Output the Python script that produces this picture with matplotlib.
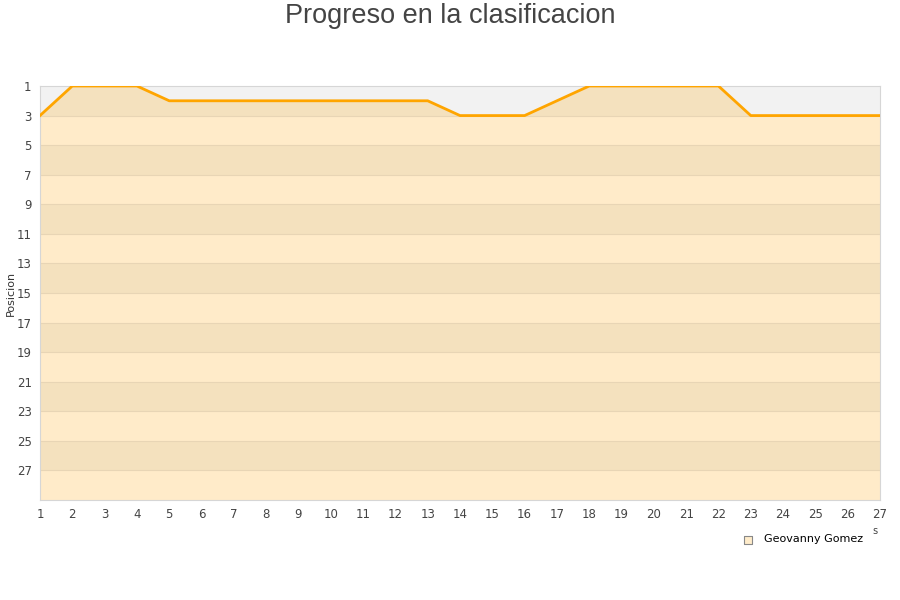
import numpy as np
import matplotlib.pyplot as plt

# datos de la grafica
jornadas = list(range(1, 28))
posiciones = [3, 1, 1, 1, 2, 2, 2, 2, 2, 2, 2, 2, 2, 3, 3, 3, 2, 1, 1, 1, 1, 1, 3, 3, 3, 3, 3]
yticks = list(range(1, 28, 2))
jugador = "Geovanny Gomez"

fig = plt.figure(figsize=(9, 6), dpi=100)
ax = fig.add_axes([40 / 900, 100 / 600, 840 / 900, 414 / 600])

ymin, ymax = 1, 29
ax.set_xlim(1, 27)
ax.set_ylim(ymax, ymin)

# franjas de fondo alternas (gris / blanco)
ax.set_facecolor("white")
for y0 in range(1, 29, 4):
    ax.axhspan(y0, y0 + 2, color="#f2f2f2", zorder=0, lw=0)

# area bajo la linea, naranja transparente
ax.fill_between(jornadas, posiciones, ymax, color="#ffa500", alpha=0.21, zorder=1, lw=0)
for y in range(3, 29, 2):
    ax.axhline(y, color="#e8d5b5", lw=0.8, zorder=2)
ax.plot(jornadas, posiciones, color="#ffa500", lw=2, zorder=3)

ax.set_xticks(jornadas)
ax.set_yticks(yticks)
ax.tick_params(length=0, labelsize=8.5, colors="#444444", pad=6)
for s in ax.spines.values():
    s.set_color("#d6d6d6")
ax.set_ylabel("Posicion", fontsize=8, color="#333333")
ax.yaxis.set_label_coords(-24 / 840, 0.5)

fig.text(0.5, 1 - 16 / 600, "Progreso en la clasificacion", ha="center", va="center",
         fontsize=19.5, color="#444444", family="Liberation Sans")

fig.text(875 / 900, 1 - 531 / 600, "s", fontsize=7, color="#444444", ha="center", va="center")
ax.scatter([], [], marker="s", s=40, color="#ffecca", edgecolors="#888888", lw=0.8, label=jugador)
ax.legend(loc="upper right", bbox_to_anchor=(868 / 900, 1 - 530 / 600),
          bbox_transform=fig.transFigure, frameon=False, fontsize=8,
          handletextpad=0.5, borderaxespad=0)

fig.savefig("out.png", dpi=100)
